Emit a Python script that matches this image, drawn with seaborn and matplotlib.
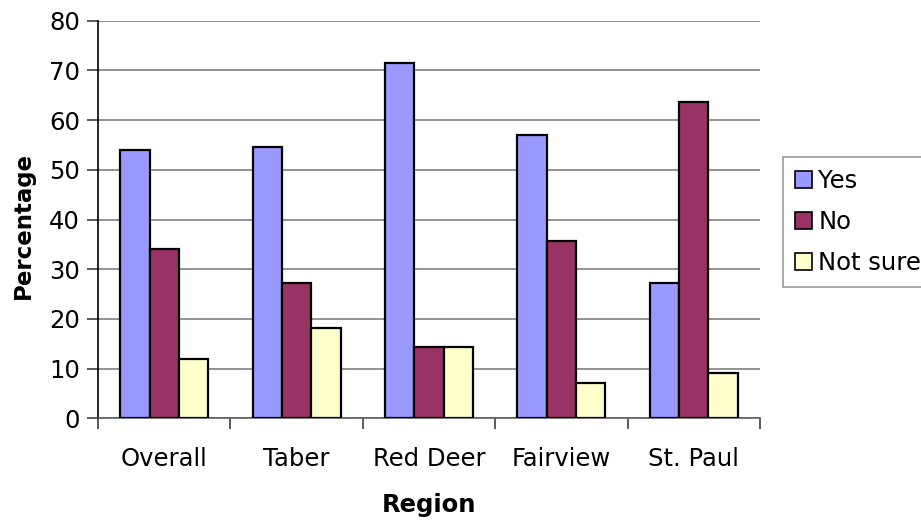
import matplotlib
matplotlib.use("Agg")
import matplotlib.pyplot as plt
import seaborn as sns
import pandas as pd
import numpy as np

regions = ["Overall", "Taber", "Red Deer", "Fairview", "St. Paul"]
answers = ["Yes", "No", "Not sure"]
yes_vals = [53.9, 54.6, 71.5, 57.1, 27.2]
no_vals = [34.1, 27.2, 14.3, 35.7, 63.6]
notsure_vals = [12.0, 18.1, 14.3, 7.2, 9.1]
y_ticks = [0, 10, 20, 30, 40, 50, 60, 70, 80]
colors = ["#9999FF", "#993366", "#FFFFCC"]

df = pd.DataFrame({
    "Region": regions * 3,
    "Answer": [a for a in answers for _ in regions],
    "Percentage": yes_vals + no_vals + notsure_vals,
})

sns.set_theme(style="white")
plt.rcParams["font.family"] = ["DejaVu Sans"]
plt.rcParams["text.color"] = "black"
plt.rcParams["axes.labelcolor"] = "black"
plt.rcParams["xtick.color"] = "black"
plt.rcParams["ytick.color"] = "black"

fig = plt.figure(figsize=(9.21, 5.21), dpi=100)
ax = fig.add_axes([98 / 921, 1 - 418.3 / 521, 662 / 921, 397.6 / 521])

sns.barplot(data=df, x="Region", y="Percentage", hue="Answer",
            order=regions, hue_order=answers, palette=colors,
            width=0.665, edgecolor="black", linewidth=1.6,
            saturation=1, errorbar=None, ax=ax, zorder=3)

ax.set_ylim(0, 80)
ax.set_xlim(-0.5, len(regions) - 0.5)
ax.set_yticks(y_ticks)
ax.yaxis.grid(True, color="#808080", linewidth=1.2, zorder=0)
ax.set_axisbelow(True)
for s in ["top", "right"]:
    ax.spines[s].set_visible(False)
ax.spines["left"].set_color("black")
ax.spines["bottom"].set_color("#606060")
ax.spines["left"].set_linewidth(1.2)
ax.spines["bottom"].set_linewidth(1.2)

ax.tick_params(axis="y", left=True, length=8, width=1.2, color="#404040",
               labelsize=17.5, pad=5)
ax.tick_params(axis="x", which="major", bottom=False, length=0,
               labelsize=17.5, pad=21)
ax.set_xticks(np.arange(-0.5, len(regions), 1.0), minor=True)
ax.tick_params(axis="x", which="minor", bottom=True, length=8, width=1.2,
               color="#404040")

ax.set_xlabel("Region", fontsize=17.5, fontweight="bold")
ax.set_ylabel("Percentage", fontsize=16.5, fontweight="bold")
ax.xaxis.set_label_coords(0.5, -0.218)
ax.xaxis.label.set_va("center")
ax.yaxis.set_label_coords(-0.113, 0.486)
ax.yaxis.label.set_va("center")

ax.get_legend().remove()
handles, labels = ax.get_legend_handles_labels()
leg = fig.legend(handles, labels, loc="upper left",
                 bbox_to_anchor=(783 / 921, 1 - 156.7 / 521),
                 frameon=True, fancybox=False, shadow=False,
                 fontsize=17.5, handlelength=0.7, handleheight=0.7,
                 handletextpad=0.25, labelspacing=0.7, borderpad=0.5,
                 borderaxespad=0)
leg.get_frame().set_edgecolor("#808080")
leg.get_frame().set_linewidth(1.2)
for p in leg.get_patches():
    p.set_edgecolor("black")
    p.set_linewidth(1.2)

fig.savefig("out.png", dpi=100)
